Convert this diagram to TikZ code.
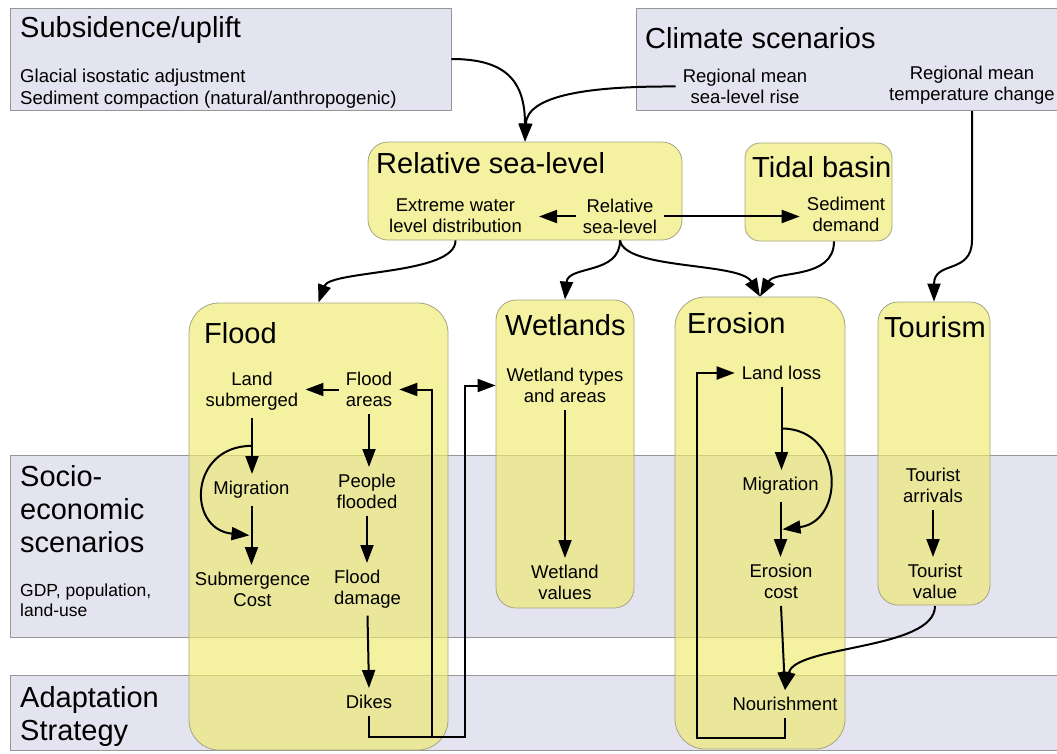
\documentclass[tikz,border=0pt]{standalone}
\usepackage{fontspec}
\setmainfont{Liberation Sans}
\usetikzlibrary{arrows.meta,calc}
\definecolor{lav}{RGB}{228,228,240}
\definecolor{bandline}{RGB}{150,150,150}
\definecolor{ylw}{RGB}{238,234,110}
\definecolor{yline}{RGB}{165,165,130}
\begin{document}
\begin{tikzpicture}[x=1pt,y=-1pt,
  lab/.style={font=\fontsize{18.5}{21}\selectfont, align=center, inner sep=7pt, anchor=north},
  ttl/.style={font=\fontsize{29}{33}\selectfont, inner sep=0pt, anchor=base west},
  ttlm/.style={font=\fontsize{29}{33}\selectfont, inner sep=0pt, anchor=north west, align=left},
  smt/.style={font=\fontsize{18.6}{22}\selectfont, inner sep=0pt, anchor=north west, align=left},
  arr/.style={line width=2pt, -{Triangle[length=18pt,width=13pt]}},
  gbox/.style={rectangle, fill=lav, draw=bandline, line width=0.8pt, inner sep=0pt},
  ybox/.style={rectangle, fill=ylw, fill opacity=0.65, draw=yline, line width=0.8pt, inner sep=0pt}
]
\useasboundingbox (0,0) rectangle (1057,753);
% bands and grey boxes
\node[gbox, minimum width=1070pt, minimum height=182pt] (socband) at (545,546) {};
\node[gbox, minimum width=1070pt, minimum height=75pt] (adband) at (545,712.5) {};
\node[gbox, minimum width=441pt, minimum height=102pt] (subbox) at (230.5,59) {};
\node[gbox, minimum width=444pt, minimum height=102pt] (climbox) at (858,59) {};
% yellow boxes
\node[ybox, minimum width=314pt, minimum height=98pt, rounded corners=20pt] (rslbox) at (525,191) {};
\node[ybox, minimum width=147pt, minimum height=98pt, rounded corners=15pt] (tidbox) at (818.5,192) {};
\node[ybox, minimum width=259pt, minimum height=447pt, rounded corners=30pt] (floodbox) at (318.5,526.5) {};
\node[ybox, minimum width=138pt, minimum height=308pt, rounded corners=20pt] (wetbox) at (565,454) {};
\node[ybox, minimum width=170pt, minimum height=452pt, rounded corners=30pt] (erobox) at (760,523) {};
\node[ybox, minimum width=112pt, minimum height=303pt, rounded corners=20pt] (toubox) at (934,453.5) {};
% titles and texts
\node[ttl] (subT) at (20,37) {Subsidence/uplift};
\node[smt] (subS) at (20,69) {Glacial isostatic adjustment\\Sediment compaction (natural/anthropogenic)};
\node[ttl] (climT) at (645,48) {Climate scenarios};
\node[lab] (regsl) at (745,62) {Regional mean\\sea-level rise};
\node[lab] (regtemp) at (972,58.5) {Regional mean\\temperature change};
\node[ttl] (rslT) at (376,173) {Relative sea-level};
\node[lab] (ext) at (455.5,192) {Extreme water\\level distribution};
\node[lab] (rslv) at (620,192) {Relative\\sea-level};
\node[ttl] (tidT) at (752,177) {Tidal basin};
\node[lab] (sed) at (846,190) {Sediment\\demand};
\node[ttl] (floodT) at (204,343) {Flood};
\node[lab] (ls) at (252,365) {Land\\submerged};
\node[lab] (fa) at (369,365) {Flood\\areas};
\node[lab] (mig1) at (251.5,474) {Migration};
\node[lab] (pf) at (367,467) {People\\flooded};
\node[lab] (sc) at (252.5,565) {Submergence\\Cost};
\node[lab, align=left] (fd) at (367.5,563) {Flood\\damage};
\node[lab] (dikes) at (369,688) {Dikes};
\node[ttl] (wetT) at (505,335) {Wetlands};
\node[lab] (wta) at (565,361) {Wetland types\\and areas};
\node[lab] (wv) at (565,558) {Wetland\\values};
\node[ttl] (eroT) at (687,333) {Erosion};
\node[lab] (ll) at (781.5,359) {Land loss};
\node[lab] (mig2) at (780.5,470) {Migration};
\node[lab] (ec) at (781,557) {Erosion\\cost};
\node[lab] (nour) at (785,690) {Nourishment};
\node[ttl] (touT) at (884,337) {Tourism};
\node[lab] (ta) at (933,461) {Tourist\\arrivals};
\node[lab] (tv) at (935,557) {Tourist\\value};
\node[ttlm] (socT) at (20,465) {Socio-\\economic\\scenarios};
\node[smt, font=\fontsize{17.5}{20}\selectfont] (socS) at (20,584) {GDP, population,\\land-use};
\node[ttlm] (adT) at (20,686) {Adaptation\\Strategy};
% top connectors
\draw[arr] (subbox.east) .. controls (505,59) and (525,80) .. (rslbox.north);
\draw[arr] (regsl.west) .. controls (590,86) and (527,95) .. (rslbox.north);
\coordinate (tbend) at (972,240);
\draw[arr] (regtemp.south) -- (tbend) .. controls (972,275) and (934,260) .. (toubox.north);
\draw[arr, shorten >=10pt] (rslv.west) -- (rslv.west -| ext.east);
\draw[arr] (rslv.east) -- (rslv.east -| sed.west);
\draw[arr] (ext.south |- rslbox.south) .. controls (456,275) and (330,270) .. (floodbox.north);
\draw[arr] (rslv.south |- rslbox.south) .. controls (620,275) and (568,265) .. (wetbox.north);
\draw[arr] (rslv.south |- rslbox.south) .. controls (625,270) and (740,262) .. (erobox.north);
\draw[arr] ([xshift=15.5pt]tidbox.south) .. controls (834,280) and (775,270) .. (erobox.north);
% flood
\draw[arr] (fa.west) -- (fa.west -| ls.east);
\draw[arr] (ls.south) -- (ls.south |- mig1.north);
\draw[arr] (mig1.south) -- (mig1.south |- sc.north);
\coordinate (lsmid) at ($(ls.south)!0.5!(ls.south |- mig1.north)$);
\coordinate (migmid) at ($(mig1.south)!0.5!(mig1.south |- sc.north)$);
\draw[arr] (lsmid) .. controls +(-63,0) and +(-63,-6) .. ([xshift=-2pt]migmid);
\draw[arr] (fa.south) -- (fa.south |- pf.north);
\draw[arr] (pf.south) -- (pf.south |- fd.north);
\draw[arr] (fd.south) -- (dikes.north);
\coordinate (fbA) at (432,737);
\coordinate (fbB) at (465,737);
\draw[arr] (dikes.south) |- (fbB) |- (wta.west -| wetbox.west);
\draw[arr] (fbA) |- (fa.east);
% wetlands
\draw[arr] (wta.south) -- (wta.south |- wv.north);
% erosion
\draw[arr] (ll.south) -- (ll.south |- mig2.north);
\coordinate (llmid) at ($(ll.south)!0.5!(ll.south |- mig2.north)$);
\coordinate (m2mid) at ($(mig2.south)!0.5!(mig2.south |- ec.north)$);
\draw[arr] (llmid) .. controls +(63,0) and +(63,-8) .. ([xshift=2pt]m2mid);
\draw[arr] (mig2.south) -- (mig2.south |- ec.north);
\draw[arr] (ec.south) -- (nour.north);
\coordinate (ebA) at (697,738);
\draw[arr] (nour.south) |- (ebA) |- (ll.west);
\draw[arr] (tv.south) .. controls +(0,44) and (795,645) .. (nour.north);
% tourism
\draw[arr] (ta.south) -- (ta.south |- tv.north);
\end{tikzpicture}
\end{document}
